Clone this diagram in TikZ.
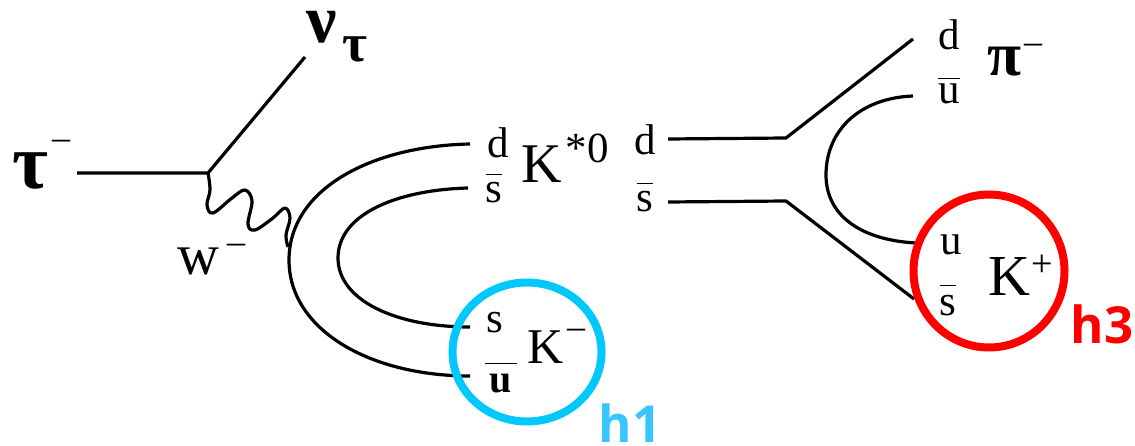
\documentclass[tikz,border=0pt]{standalone}
\usepackage{fontspec}
\setmainfont{Liberation Serif}
\newfontfamily\hfont{Open Sans}
\newcommand{\fsz}[1]{\fontsize{#1}{#1}\selectfont}
\newcommand{\barred}[2]{$\overline{\hbox{\rule{0pt}{#1pt}#2}}$}
\newcommand{\barwide}[3]{$\overline{\hbox to #2pt{\hss\rule{0pt}{#1pt}#3\hss}}$}
\usetikzlibrary{shapes.geometric}
\tikzset{
  lab/.style={inner sep=0pt,outer sep=0pt,anchor=base,font=\fsz{43}},
  big/.style={inner sep=0pt,outer sep=0pt,anchor=base,font=\fsz{56}},
  gk/.style={inner sep=0pt,outer sep=0pt,anchor=base,font=\bfseries\fsz{68}},
  sup/.style={inner sep=0pt,outer sep=0pt,anchor=base,font=\fsz{36}},
  tag/.style={inner sep=0pt,outer sep=0pt,anchor=base,font=\hfont\bfseries\fsz{51}},
  wire/.style={line width=3.2pt,black,line cap=butt,line join=round},
  ring/.style={draw,line width=8pt,ellipse,inner sep=0pt,outer sep=0pt},
}
\definecolor{hblue}{HTML}{00C8FF}
\definecolor{htext}{HTML}{38C6FF}
\definecolor{hred}{HTML}{FF0000}
\begin{document}
\begin{tikzpicture}[x=1pt,y=-1pt]
\useasboundingbox (0,0) rectangle (1135,446);
% vertices
\coordinate (tauend) at (77,173);
\coordinate (vtx) at (208,173);
\coordinate (nuend) at (305,57);
\coordinate (wend) at (288,247);
\coordinate (o1) at (470,144);
\coordinate (o2) at (289,260);
\coordinate (o3) at (470,376);
\coordinate (i1) at (468,188);
\coordinate (i2) at (338,258);
\coordinate (i3) at (470,327);
\coordinate (d1) at (668,139);
\coordinate (d2) at (786,138);
\coordinate (d3) at (913,39);
\coordinate (s1) at (668,202);
\coordinate (s2) at (786,201);
\coordinate (s3) at (914,299);
\coordinate (c1) at (913,96);
\coordinate (c2) at (826,175);
\coordinate (c3) at (916,243);
% lines
\draw[wire] (tauend) -- (vtx) -- (nuend);
\draw[wire] plot[smooth,tension=0.6] coordinates {(vtx) (210,190) (207,205) (213,213) (232,198) (245,190) (252,201) (248,224) (255,230) (273,218) (285,208) (290,218) (286,235) (wend)};
\draw[wire] (o1) .. controls (370,146) and (289,190) .. (o2) .. controls (289,330) and (370,376) .. (o3);
\draw[wire] (i1) .. controls (395,190) and (338,215) .. (i2) .. controls (338,300) and (395,327) .. (i3);
\draw[wire] (d1) -- (d2) -- (d3);
\draw[wire] (s1) -- (s2) -- (s3);
\draw[wire] (c1) .. controls (860,98) and (826,130) .. (c2) .. controls (826,215) and (860,240) .. (c3);
% left labels
\node[gk,font=\bfseries\fsz{78}] (tau) at (30,189) {τ};
\node[sup] (taum) at (61,150) {–};
\node[gk] (nu) at (322,43) {ν};
\node[gk,font=\bfseries\fsz{54}] (nutau) at (355,62) {τ};
\node[lab,font=\fsz{58}] (w) at (198,275) {w};
\node[sup] (wm) at (236,254) {–};
% K*0
\node[lab] (qd1) at (498,158) {d};
\node[lab] (qs1) at (494,203) {\barred{27}{s}};
\node[big] (ks) at (542,183) {K};
\node[lab] (ks0) at (587,163) {*0};
\node[lab] (qd2) at (645,155) {d};
\node[lab] (qs2) at (645,212) {\barred{27}{s}};
% K-
\node[lab] (qs3) at (495,333) {s};
\node[lab,font=\bfseries\fsz{40}] (qu3) at (501,392) {\barwide{27}{32}{u}};
\node[big,font=\fsz{50}] (km) at (546,363) {K};
\node[sup] (kmm) at (576,338) {–};
% pi
\node[lab] (qd4) at (949,50) {d};
\node[lab] (qu4) at (949,104) {\barred{24}{u}};
\node[gk,font=\bfseries\fsz{62}] (pi) at (1004,76) {π};
\node[sup] (pim) at (1033,54) {–};
% K+
\node[lab] (qu5) at (951,255) {u};
\node[lab] (qs5) at (948,316) {\barred{29}{s}};
\node[big,font=\fsz{58}] (kp) at (1009,295) {K};
\node[sup,font=\fsz{38}] (kpp) at (1042,277) {+};
% rings
\node[ring,draw=hblue,minimum width=149pt,minimum height=139pt] (h1ring) at (527,352) {};
\node[ring,draw=hred,minimum width=151pt,minimum height=153pt] (h3ring) at (989,271) {};
\node[tag,text=htext] (h1) at (630,442) {h1};
\node[tag,text=hred] (h3) at (1102,343) {h3};
\end{tikzpicture}
\end{document}
